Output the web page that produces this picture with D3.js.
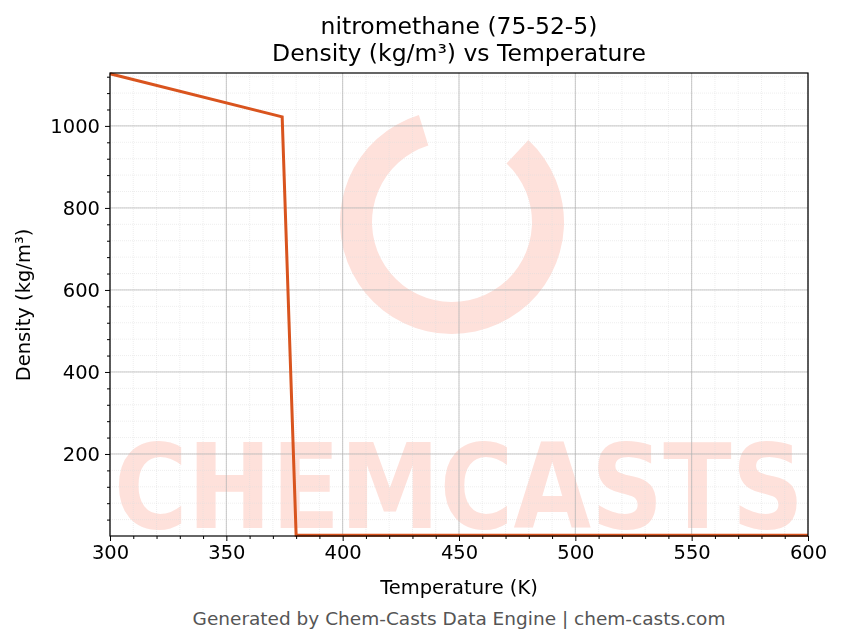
<!DOCTYPE html>
<html lang="en">
<head>
    <meta charset="UTF-8">
    <title>Density</title>
    <style>
        body { margin: 0; background: #fff; }
        text { font-family: "DejaVu Sans", sans-serif; }
    </style>
</head>
<body>
    <svg width="843" height="644"></svg>
    <script src="https://d3js.org/d3.v7.min.js"></script>
    <script>
        // temperature (K) and density (kg/m3)
        let temps = [300, 374, 380, 600],
            density = [1127, 1022, 2, 2],
            xTicks = [300, 350, 400, 450, 500, 550, 600],
            yTicks = [200, 400, 600, 800, 1000];

        let svg = d3.select("svg"),
            pLeft = 110, pRight = 808, pTop = 73, pBottom = 536;

        let x = d3.scaleLinear().domain([300, 600]).range([pLeft, pRight]),
            y = d3.scaleLinear().domain([0, 1129]).range([pBottom, pTop]);

        // watermark
        let wm = svg.append("g").attr("opacity", 0.55);
        wm.append("path")
            .attr("d", d3.arc().innerRadius(80).outerRadius(112).startAngle(0.75).endAngle(2 * Math.PI - 0.3)())
            .attr("transform", "translate(452,222)")
            .attr("fill", "#fdc8bd");
        wm.append("text").attr("x", 459).attr("y", 528)
            .attr("text-anchor", "middle")
            .style("font-size", "118px").style("font-weight", "bold")
            .attr("textLength", 690).attr("lengthAdjust", "spacingAndGlyphs")
            .attr("fill", "#fdc8bd").text("CHEMCASTS");

        // minor grid
        let g = svg.append("g");
        g.selectAll(".mx").data(d3.range(300, 601, 10)).join("line")
            .attr("x1", d => x(d)).attr("x2", d => x(d)).attr("y1", pTop).attr("y2", pBottom)
            .attr("stroke", "#ddd").attr("stroke-width", 0.5).attr("stroke-dasharray", "1,1");
        g.selectAll(".my").data(d3.range(40, 1129, 40)).join("line")
            .attr("y1", d => y(d)).attr("y2", d => y(d)).attr("x1", pLeft).attr("x2", pRight)
            .attr("stroke", "#ddd").attr("stroke-width", 0.5).attr("stroke-dasharray", "1,1");
        // major grid
        g.selectAll(".gx").data(xTicks).join("line")
            .attr("x1", d => x(d)).attr("x2", d => x(d)).attr("y1", pTop).attr("y2", pBottom)
            .attr("stroke", "#b0b0b0").attr("stroke-width", 0.7);
        g.selectAll(".gy").data(yTicks).join("line")
            .attr("y1", d => y(d)).attr("y2", d => y(d)).attr("x1", pLeft).attr("x2", pRight)
            .attr("stroke", "#b0b0b0").attr("stroke-width", 0.7);

        // line
        svg.append("path")
            .datum(temps.map((t, i) => [t, density[i]]))
            .attr("d", d3.line().x(d => x(d[0])).y(d => y(d[1])))
            .attr("fill", "none").attr("stroke", "#d9541e").attr("stroke-width", 3);

        // frame
        svg.append("rect").attr("x", pLeft).attr("y", pTop)
            .attr("width", pRight - pLeft).attr("height", pBottom - pTop)
            .attr("fill", "none").attr("stroke", "#000").attr("stroke-width", 1.2);

        // axes
        svg.append("g").attr("class", "minor").attr("transform", `translate(0,${pBottom})`)
            .call(d3.axisBottom(x).tickValues(d3.range(310, 600, 10).filter(d => d % 50)).tickSize(3).tickFormat(""));
        svg.append("g").attr("class", "minor").attr("transform", `translate(${pLeft},0)`)
            .call(d3.axisLeft(y).tickValues(d3.range(40, 1129, 40).filter(d => d % 200)).tickSize(3).tickFormat(""));
        svg.selectAll(".minor text").remove();
        svg.append("g").attr("transform", `translate(0,${pBottom})`)
            .call(d3.axisBottom(x).tickValues(xTicks).tickSize(5).tickPadding(4).tickFormat(d3.format("d")));
        svg.append("g").attr("transform", `translate(${pLeft},0)`)
            .call(d3.axisLeft(y).tickValues(yTicks).tickSize(5).tickPadding(5).tickFormat(d3.format("d")));
        svg.selectAll(".domain").remove();
        svg.selectAll(".tick text").style("font-size", "19.5px").attr("fill", "#000")
            .style("font-family", "DejaVu Sans");

        // titles
        svg.append("text").attr("x", 459).attr("y", 34).attr("text-anchor", "middle")
            .style("font-size", "23.5px").text("nitromethane (75-52-5)");
        svg.append("text").attr("x", 459).attr("y", 61).attr("text-anchor", "middle")
            .style("font-size", "23.5px").text("Density (kg/m³) vs Temperature");
        svg.append("text").attr("x", 459).attr("y", 594).attr("text-anchor", "middle")
            .style("font-size", "19.5px").text("Temperature (K)");
        svg.append("text").attr("transform", "translate(30,305) rotate(-90)").attr("text-anchor", "middle")
            .style("font-size", "19.5px").text("Density (kg/m³)");
        svg.append("text").attr("x", 459).attr("y", 625).attr("text-anchor", "middle")
            .style("font-size", "18.5px").attr("fill", "#555")
            .text("Generated by Chem-Casts Data Engine | chem-casts.com");
    </script>
</body>
</html>
